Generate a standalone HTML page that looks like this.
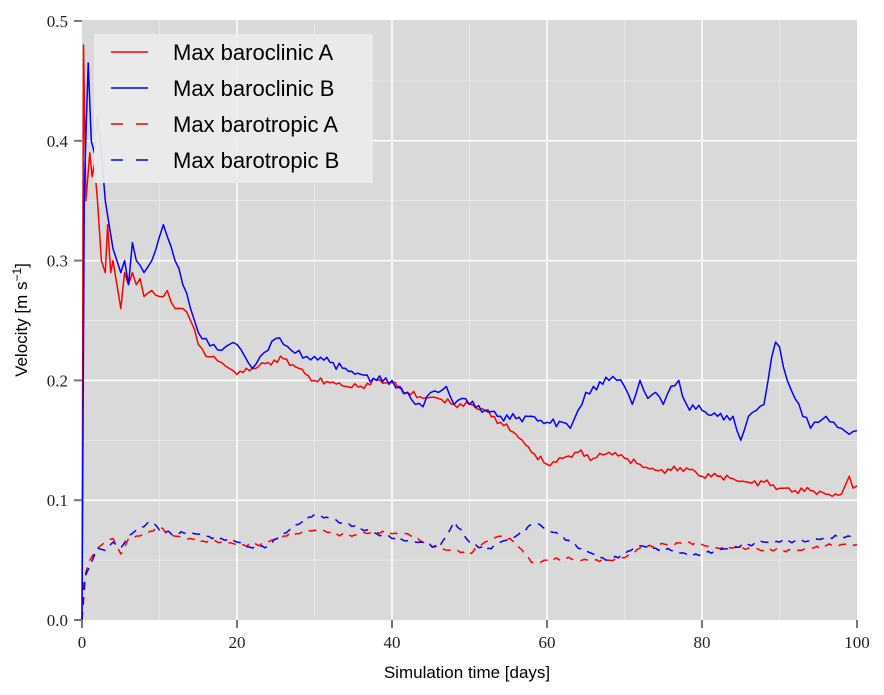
<!DOCTYPE html>
<html><head><meta charset="utf-8"><style>
body{margin:0;background:#fff;width:884px;height:695px;overflow:hidden}
svg{display:block}
.tk{font-family:"Liberation Serif",serif;font-size:17px;fill:#222}
.lb{font-family:"Liberation Sans",sans-serif;font-size:17px;fill:#000}
.lg{font-family:"Liberation Sans",sans-serif;font-size:22px;fill:#000}
</style></head><body>
<svg id="s" width="884" height="695" xmlns="http://www.w3.org/2000/svg">
<rect x="82" y="20" width="775" height="600" fill="#d9d9d9"/>
<g id="grid"></g>
<g id="ser" fill="none" stroke-width="1.5" stroke-linejoin="round"></g>
<rect x="94" y="34" width="279" height="149" fill="#ebebeb" opacity="0.95"/>
<line x1="111" y1="52" x2="148" y2="52" stroke="#f00" stroke-width="1.5"/>
<line x1="111" y1="88" x2="148" y2="88" stroke="#00f" stroke-width="1.5"/>
<line x1="111" y1="124" x2="148" y2="124" stroke="#f00" stroke-width="1.5" stroke-dasharray="12,13"/>
<line x1="111" y1="160" x2="148" y2="160" stroke="#00f" stroke-width="1.5" stroke-dasharray="12,13"/>
<text class="lg" x="173" y="60">Max baroclinic A</text>
<text class="lg" x="173" y="96">Max baroclinic B</text>
<text class="lg" x="173" y="132">Max barotropic A</text>
<text class="lg" x="173" y="168">Max barotropic B</text>
<text class="lb" x="467" y="678" text-anchor="middle">Simulation time [days]</text>
<text class="lb" transform="translate(27,320) rotate(-90)" text-anchor="middle">Velocity [m s<tspan dy="-6" font-size="12">−1</tspan><tspan dy="6">]</tspan></text>
</svg>
<script>
const X=d=>82+7.75*d, Y=v=>620-v*1198;
const ns="http://www.w3.org/2000/svg";
const g=document.getElementById('grid'), s=document.getElementById('ser'), svg=document.getElementById('s');
function el(p,t,a){const e=document.createElementNS(ns,t);for(const k in a)e.setAttribute(k,a[k]);p.appendChild(e);return e;}
for(let d=10;d<100;d+=20)el(g,'line',{x1:X(d),x2:X(d),y1:20,y2:620,stroke:'#ececec','stroke-width':0.8});
for(let v=0.05;v<0.5;v+=0.1)el(g,'line',{x1:82,x2:857,y1:Y(v),y2:Y(v),stroke:'#ececec','stroke-width':0.8});
for(let d=20;d<100;d+=20)el(g,'line',{x1:X(d),x2:X(d),y1:20,y2:620,stroke:'#fff','stroke-width':1.5});
for(let i=1;i<5;i++)el(g,'line',{x1:82,x2:857,y1:Y(i/10),y2:Y(i/10),stroke:'#fff','stroke-width':1.5});
for(let d=0;d<=100;d+=20){el(svg,'line',{x1:X(d),x2:X(d),y1:620,y2:628,stroke:'#777','stroke-width':2});const t=el(svg,'text',{x:X(d),y:648,'class':'tk','text-anchor':'middle'});t.textContent=d;}
for(let i=0;i<=5;i++){el(svg,'line',{x1:74,x2:82,y1:Y(i/10),y2:Y(i/10),stroke:'#777','stroke-width':2});const t=el(svg,'text',{x:68,y:Y(i/10)+6,'class':'tk','text-anchor':'end'});t.textContent=(i/10).toFixed(1);}
const A=[0,0,.2,.48,.5,.35,1,.39,1.3,.37,1.6,.38,2,.35,2.5,.30,3,.29,3.3,.33,3.7,.29,4,.30,4.5,.28,5,.26,5.5,.29,6,.28,6.5,.29,7,.28,7.5,.285,8,.27,9,.275,10,.27,11,.275,12,.26,13,.26,14,.25,15,.23,16,.22,17,.22,18,.215,19,.21,20,.205,22,.21,24,.215,26,.218,28,.21,30,.20,32,.198,34,.195,36,.195,38,.2,40,.198,42,.19,44,.185,46,.185,48,.18,50,.18,52,.175,54,.165,56,.155,58,.14,60,.13,62,.135,64,.14,66,.135,68,.14,70,.135,72,.13,74,.125,76,.125,78,.127,80,.12,82,.12,84,.118,86,.115,88,.115,90,.11,92,.108,94,.108,96,.105,98,.105,99,.12,99.5,.11,100,.112];
const B=[0,0,.3,.36,.8,.465,1.2,.40,1.6,.39,2,.42,2.5,.39,3,.35,3.5,.33,4,.31,4.5,.30,5,.29,5.5,.30,6,.28,6.5,.315,7,.30,8,.29,9,.30,10,.32,10.5,.33,11,.32,12,.30,13,.28,14,.26,15,.24,16,.235,17,.23,18,.225,19,.23,20,.23,21,.22,22,.21,23,.22,24,.225,25,.235,26,.23,27,.225,28,.225,29,.22,30,.22,32,.215,34,.21,36,.205,38,.2,40,.2,41,.195,42,.19,43,.18,44,.178,45,.19,46,.19,47,.195,48,.18,49,.185,50,.18,52,.175,54,.17,56,.168,58,.17,60,.165,62,.165,63,.16,64,.175,65,.19,66,.195,68,.2,69,.2,70,.195,71,.18,72,.2,73,.185,74,.19,75,.18,76,.195,77,.2,78,.18,80,.175,82,.17,84,.17,85,.15,86,.17,87,.175,88,.18,89,.22,89.5,.232,90,.228,91,.2,92,.185,93,.17,94,.16,95,.165,96,.17,97,.165,98,.16,99,.155,100,.158];
const C=[0,0,.5,.04,1,.05,2,.06,3,.065,4,.068,5,.055,6,.068,7,.07,8,.072,10,.077,12,.07,14,.068,16,.065,18,.065,20,.063,22,.062,24,.065,26,.07,28,.072,30,.075,32,.073,34,.07,36,.072,38,.073,40,.072,42,.072,44,.065,46,.06,48,.058,50,.055,52,.065,54,.07,56,.065,58,.048,60,.05,62,.052,64,.05,66,.05,68,.05,70,.052,72,.06,74,.063,76,.063,78,.065,80,.063,82,.06,84,.06,86,.06,88,.058,90,.058,92,.058,94,.06,96,.062,98,.063,100,.063];
const D=[0,0,.3,.035,1,.045,2,.06,3,.058,4,.065,5,.06,6,.07,7,.075,8,.078,9,.082,10,.075,12,.072,14,.073,16,.07,18,.068,20,.065,22,.06,24,.062,26,.072,28,.08,30,.088,32,.085,34,.08,36,.076,38,.072,40,.068,42,.066,44,.065,46,.06,47,.07,48,.082,49,.075,50,.065,52,.058,54,.065,56,.07,58,.08,59,.08,60,.075,62,.07,64,.06,66,.055,68,.05,70,.055,72,.062,74,.06,76,.058,78,.055,80,.055,82,.058,84,.06,86,.063,88,.065,90,.065,92,.066,94,.066,96,.068,98,.07,100,.07];
function dens(a,amp,seed){
  const o=[];
  for(let i=0;i<a.length-2;i+=2){
    const d0=a[i],v0=a[i+1],d1=a[i+2],v1=a[i+3];
    o.push(d0,v0);
    if(d0<3)continue;
    const n=Math.floor((d1-d0)/0.4);
    for(let k=1;k<n;k++){const t=k/n,d=d0+(d1-d0)*t;
      const nz=amp*(Math.sin(d*7.3+seed)*0.6+Math.sin(d*13.1+seed*2)*0.4);
      o.push(d,v0+(v1-v0)*t+nz);}
  }
  o.push(a[a.length-2],a[a.length-1]);return o;
}
function pl(a,c,dash){let p=[];for(let i=0;i<a.length;i+=2)p.push(X(a[i]).toFixed(1)+','+Y(a[i+1]).toFixed(1));const o={points:p.join(' '),stroke:c};if(dash)o['stroke-dasharray']='8,7';el(s,'polyline',o);}
pl(dens(C,0.0015,1),'#f00',1);pl(dens(D,0.0015,2),'#00f',1);pl(dens(A,0.003,3),'#f00');pl(dens(B,0.004,4),'#00f');
</script>
</body></html>
